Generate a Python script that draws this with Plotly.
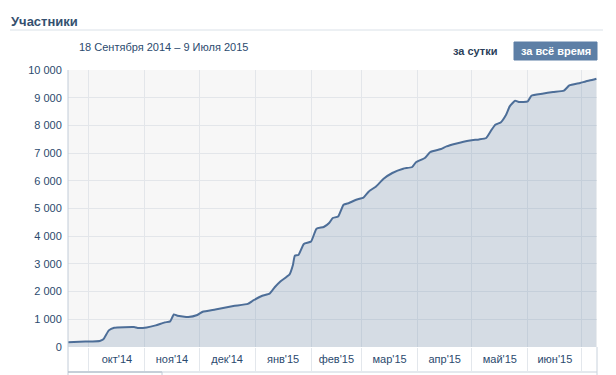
import plotly.graph_objects as go
import pandas as pd

# ---- data ----
dates = [
    "2014-09-19", "2014-09-29", "2014-10-07", "2014-10-09", "2014-10-12", "2014-10-15",
    "2014-10-26", "2014-10-28", "2014-11-02", "2014-11-07", "2014-11-12", "2014-11-15",
    "2014-11-17", "2014-11-19", "2014-11-25", "2014-11-30", "2014-12-03", "2014-12-10",
    "2014-12-20", "2014-12-28", "2014-12-31", "2015-01-05", "2015-01-09", "2015-01-12",
    "2015-01-15", "2015-01-20", "2015-01-22", "2015-01-23", "2015-01-25", "2015-01-28",
    "2015-02-01", "2015-02-04", "2015-02-08", "2015-02-11", "2015-02-13", "2015-02-16",
    "2015-02-19", "2015-02-22", "2015-02-26", "2015-03-02", "2015-03-05", "2015-03-09",
    "2015-03-13", "2015-03-18", "2015-03-24", "2015-03-29", "2015-03-31", "2015-04-05",
    "2015-04-08", "2015-04-14", "2015-04-17", "2015-04-22", "2015-04-30", "2015-05-05",
    "2015-05-09", "2015-05-12", "2015-05-14", "2015-05-17", "2015-05-20", "2015-05-22",
    "2015-05-25", "2015-05-27", "2015-06-01", "2015-06-03", "2015-06-09", "2015-06-15",
    "2015-06-21", "2015-06-24", "2015-06-30", "2015-07-03", "2015-07-07", "2015-07-09",
]
members = [
    170, 195, 220, 280, 600, 697,
    720, 690, 707, 780, 888, 925,
    1177, 1130, 1083, 1155, 1274, 1357,
    1480, 1555, 1682, 1852, 1924, 2166,
    2368, 2610, 2971, 3296, 3321, 3720,
    3805, 4271, 4332, 4476, 4657, 4710,
    5137, 5198, 5318, 5395, 5617, 5798,
    6065, 6282, 6437, 6498, 6664, 6823,
    7040, 7148, 7242, 7339, 7458, 7495,
    7545, 7845, 8025, 8108, 8386, 8686,
    8892, 8845, 8867, 9072, 9144, 9206,
    9253, 9444, 9531, 9588, 9650, 9686,
]
month_starts = ["2014-10-01", "2014-11-01", "2014-12-01", "2015-01-01", "2015-02-01",
                "2015-03-01", "2015-04-01", "2015-05-01", "2015-06-01", "2015-07-01"]
month_labels = ["окт'14", "ноя'14", "дек'14", "янв'15", "фев'15",
                "мар'15", "апр'15", "май'15", "июн'15"]
y_ticks = [0, 1000, 2000, 3000, 4000, 5000, 6000, 7000, 8000, 9000, 10000]
y_tick_labels = ["0", "1 000", "2 000", "3 000", "4 000", "5 000",
                 "6 000", "7 000", "8 000", "9 000", "10 000"]
title_text = "Участники"
period_text = "18 Сентября 2014 – 9 Июля 2015"
btn_day = "за сутки"
btn_all = "за всё время"
x_range = ["2014-09-19 10:00", "2015-07-09 08:00"]

# label positions: middle of each month
ms = pd.to_datetime(month_starts)
mid = [ms[i] + (ms[i + 1] - ms[i]) / 2 for i in range(len(ms) - 1)]

FONT = "Liberation Sans, Arial, sans-serif"
TXT = "#2b4a6e"

fig = go.Figure()
fig.add_trace(go.Scatter(
    x=dates, y=members, mode="lines",
    line=dict(color="#4d6e98", width=2, shape="spline", smoothing=0.4),
    fill="tozeroy", fillcolor="rgba(80,115,155,0.2)",
    hoverinfo="skip", showlegend=False,
))

fig.update_layout(
    width=616, height=375,
    margin=dict(l=68, r=19, t=70, b=28),
    paper_bgcolor="white", plot_bgcolor="#f7f7f7",
    font=dict(family=FONT, size=11, color=TXT),
    xaxis=dict(
        type="date", range=x_range, showgrid=False, zeroline=False,
        tickmode="array", tickvals=mid, ticktext=month_labels,
        ticks="outside", ticklen=2, tickcolor="rgba(0,0,0,0)",
        tickfont=dict(family=FONT, size=11, color=TXT),
        minor=dict(tickmode="array", tickvals=month_starts, showgrid=True,
                   gridcolor="#e3e6ea", gridwidth=1,
                   ticks="outside", ticklen=23, tickcolor="#e3e7ec", tickwidth=1),
        showline=False, fixedrange=True, automargin=False,
    ),
    yaxis=dict(
        range=[0, 10000], tickmode="array", tickvals=y_ticks, ticktext=y_tick_labels,
        showgrid=True, gridcolor="#e3e6ea", gridwidth=1, zeroline=False,
        ticks="outside", ticklen=3, tickcolor="rgba(0,0,0,0)",
        tickfont=dict(family=FONT, size=11, color=TXT),
        showline=False, fixedrange=True, automargin=False,
    ),
)

shapes = []
# title underline
shapes.append(dict(type="line", xref="paper", yref="paper",
                   x0=(10 - 68) / 529, x1=(603 - 68) / 529,
                   y0=1 + (70 - 30) / 277, y1=1 + (70 - 30) / 277,
                   line=dict(color="#dae1e8", width=1)))
# left axis line extending down
shapes.append(dict(type="line", xref="paper", yref="paper", x0=0, x1=0,
                   y0=-0.11, y1=1, line=dict(color="#c2ccd8", width=1)))
# bottom navigator lines
yb = -(372 - 347) / 277
shapes.append(dict(type="line", xref="paper", yref="paper", x0=0, x1=1,
                   y0=yb, y1=yb, line=dict(color="#c9d2dc", width=1)))
shapes.append(dict(type="line", xref="paper", yref="paper", x0=0, x1=(162 - 68) / 529,
                   y0=yb, y1=yb, line=dict(color="#a8b5c4", width=1)))
shapes.append(dict(type="line", xref="paper", yref="paper",
                   x0=(162 - 68) / 529, x1=(162 - 68) / 529,
                   y0=yb, y1=-0.11, line=dict(color="#c2ccd8", width=1)))
shapes.append(dict(type="line", xref="paper", yref="paper", x0=1, x1=1,
                   y0=-0.11, y1=0, line=dict(color="#c9d2dc", width=1)))
# button "за всё время"
bx0, bx1 = (514 - 68) / 529, (597 - 68) / 529
by0, by1 = 1 + (70 - 60) / 277, 1 + (70 - 42) / 277
shapes.append(dict(type="rect", xref="paper", yref="paper",
                   x0=bx0, x1=bx1, y0=by0, y1=by1,
                   fillcolor="#5d7fa6", line=dict(color="#5d7fa6", width=1),
                   layer="above"))
fig.update_layout(shapes=shapes)

ann = []
ann.append(dict(text="<b>" + title_text + "</b>", xref="paper", yref="paper",
                x=(9 - 68) / 529, y=1 + (70 - 21.5) / 277, xanchor="left", yanchor="middle",
                showarrow=False, font=dict(family=FONT, size=13, color="#34506f")))
ann.append(dict(text=period_text, xref="paper", yref="paper",
                x=(77 - 68) / 529, y=1 + (70 - 47.5) / 277, xanchor="left", yanchor="middle",
                showarrow=False, font=dict(family=FONT, size=11, color=TXT)))
ann.append(dict(text="<b>" + btn_day + "</b>", xref="paper", yref="paper",
                x=(475 - 68) / 529, y=1 + (70 - 51) / 277, xanchor="center", yanchor="middle",
                showarrow=False, font=dict(family=FONT, size=11, color="#2b3f5a")))
ann.append(dict(text="<b>" + btn_all + "</b>", xref="paper", yref="paper",
                x=(555.5 - 68) / 529, y=1 + (70 - 51) / 277, xanchor="center", yanchor="middle",
                showarrow=False, font=dict(family=FONT, size=11, color="white")))
fig.update_layout(annotations=ann)

fig.write_html("out.html", config={"displayModeBar": False},
               post_script="document.body.style.margin='0';")
